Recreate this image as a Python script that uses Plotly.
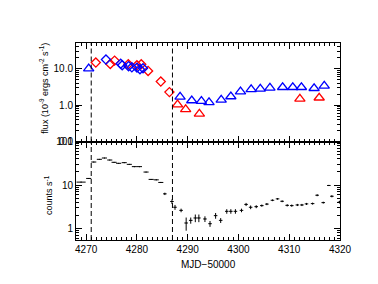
import plotly.graph_objects as go
from plotly.subplots import make_subplots

# ---- top panel: flux (1e-9 erg cm^-2 s^-1)
red_diam_mjd = [4271.9, 4274.75, 4275.6, 4278.3, 4280.0, 4280.85, 4282.2, 4284.7, 4286.4]
red_diam_flux = [14.6, 13.3, 16.5, 13.1, 12.3, 13.1, 8.6, 4.4, 2.26]
blue_diam_mjd = [4273.9, 4276.8, 4277.1, 4278.35, 4279.0, 4280.0, 4280.6, 4281.2]
blue_diam_flux = [17.6, 13.5, 12.3, 11.6, 10.8, 10.6, 9.6, 10.2]
blue_tri_mjd = [4270.5, 4288.5, 4290.8, 4292.7, 4294.2, 4296.6, 4298.5, 4300.4, 4302.5,
                4304.3, 4306.2, 4308.7, 4310.7, 4312.4, 4314.9, 4316.9]
blue_tri_flux = [10.0, 1.68, 1.33, 1.28, 1.18, 1.39, 1.71, 2.33, 2.7,
                 2.77, 2.95, 3.07, 3.07, 3.07, 2.88, 3.34]
red_tri_mjd = [4288.0, 4289.6, 4292.3, 4312.1, 4315.9]
red_tri_flux = [1.03, 0.76, 0.575, 1.48, 1.58]

# ---- bottom panel: count rate
cnt_mjd = [4269.0, 4270.5, 4271.5, 4272.6, 4273.6, 4274.65, 4275.5, 4276.4, 4277.5, 4278.5,
           4279.5, 4280.5, 4281.8, 4282.8, 4283.8, 4284.7, 4285.5, 4286.9, 4287.5, 4288.7,
           4289.7, 4290.6, 4291.5, 4292.2, 4293.4, 4294.4, 4295.5, 4296.5, 4297.7, 4298.5,
           4299.4, 4300.6, 4301.5, 4302.4, 4303.5, 4304.6, 4305.6, 4306.7, 4307.7, 4308.6,
           4309.6, 4310.5, 4311.6, 4312.5, 4313.4, 4314.6, 4315.5, 4316.7, 4317.8, 4318.4,
           4319.9]
cnt_rate = [11.7, 14.2, 33.8, 39.0, 41.8, 37.6, 33.3, 31.6, 32.7, 29.9,
            26.5, 26.5, 19.9, 13.5, 13.2, 11.5, 6.3, 4.2, 3.1, 2.63,
            1.35, 1.55, 1.76, 1.76, 1.67, 1.30, 1.99, 1.55, 2.5, 2.5,
            2.5, 2.63, 3.6, 3.1, 3.2, 3.38, 3.66, 4.48, 4.83, 4.25,
            3.43, 3.38, 3.5, 3.5, 3.7, 3.76, 5.85, 3.96, 9.8, 5.54,
            4.07]
cnt_xerr = [0.9, 0.5, 0.5, 0.5, 0.5, 0.5, 0.5, 0.5, 0.5, 0.5,
            0.5, 0.5, 0.5, 0.5, 0.5, 0.5, 0.35, 0.35, 0.35, 0.35,
            0.35, 0.35, 0.35, 0.35, 0.35, 0.35, 0.35, 0.35, 0.35, 0.35,
            0.35, 0.35, 0.35, 0.35, 0.35, 0.35, 0.35, 0.35, 0.35, 0.35,
            0.35, 0.35, 0.35, 0.35, 0.35, 0.35, 0.35, 0.35, 0.35, 0.35,
            0.35]
cnt_yerr = [0.2, 0.3, 0.5, 0.5, 0.5, 0.5, 0.5, 0.5, 0.5, 0.5,
            0.4, 0.4, 0.3, 0.3, 0.3, 0.3, 0.4, 0.5, 0.4, 0.25,
            0.45, 0.25, 0.35, 0.35, 0.25, 0.2, 0.3, 0.2, 0.3, 0.3,
            0.3, 0.25, 0.3, 0.3, 0.25, 0.2, 0.2, 0.2, 0.2, 0.2,
            0.2, 0.2, 0.2, 0.2, 0.2, 0.2, 0.3, 0.2, 0.3, 0.3,
            0.3]

event_days = [4271, 4287]

x_range = [4268, 4320]
x_major = [4270, 4280, 4290, 4300, 4310, 4320]
flux_ticks = [0.1, 1, 10]
flux_ticktext = ["0.1", "1.0", "10.0"]
cnt_ticks = [1, 10, 100]
cnt_ticktext = ["1", "10", "100"]

FONT = "Liberation Sans, Arial, sans-serif"

fig = make_subplots(rows=2, cols=1, shared_xaxes=True, vertical_spacing=0)

def pts(x, y, sym, color, size):
    return go.Scatter(x=x, y=y, mode="markers", showlegend=False,
                      marker=dict(symbol=sym, size=size, color=color,
                                  line=dict(color=color, width=1.3)))

fig.add_trace(pts(red_diam_mjd, red_diam_flux, "diamond-open", "#ff0000", 7), row=1, col=1)
fig.add_trace(pts(blue_diam_mjd, blue_diam_flux, "diamond-open", "#0000ff", 7), row=1, col=1)
fig.add_trace(pts(blue_tri_mjd, blue_tri_flux, "triangle-up-open", "#0000ff", 9), row=1, col=1)
fig.add_trace(pts(red_tri_mjd, red_tri_flux, "triangle-up-open", "#ff0000", 9), row=1, col=1)

fig.add_trace(go.Scatter(x=cnt_mjd, y=cnt_rate, mode="markers", showlegend=False,
                         marker=dict(size=1, color="black"),
                         error_x=dict(type="data", array=cnt_xerr, color="black", thickness=1, width=0),
                         error_y=dict(type="data", array=cnt_yerr, color="black", thickness=1, width=0)),
              row=2, col=1)

for d in event_days:
    for r in (1, 2):
        fig.add_vline(x=d, line=dict(color="black", width=1, dash="5px,3px"), row=r, col=1)

axis_common = dict(showline=True, linecolor="black", linewidth=1, mirror="ticks",
                   ticks="inside", tickcolor="black", showgrid=False, zeroline=False,
                   automargin=False,
                   tickfont=dict(family=FONT, size=10, color="black"))

fig.update_xaxes(range=x_range, tickmode="array", tickvals=x_major, ticklen=6,
                 minor=dict(ticks="inside", ticklen=3, dtick=1, tickcolor="black", showgrid=False),
                 **axis_common)
fig.update_xaxes(showticklabels=False, row=1, col=1)
fig.update_xaxes(showticklabels=True, row=2, col=1)

fig.update_yaxes(type="log", range=[-1, 1.7], tickmode="array", tickvals=flux_ticks,
                 ticktext=flux_ticktext, ticklen=6,
                 minor=dict(ticks="inside", ticklen=3, dtick="D1", tickcolor="black", showgrid=False),
                 row=1, col=1, **axis_common)
fig.update_yaxes(type="log", range=[-0.26, 2.0], tickmode="array", tickvals=cnt_ticks,
                 ticktext=cnt_ticktext, ticklen=6,
                 minor=dict(ticks="inside", ticklen=3, dtick="D1", tickcolor="black", showgrid=False),
                 row=2, col=1, **axis_common)

fig.update_layout(
    width=378, height=284,
    margin=dict(l=68, r=46, t=35, b=51.5),
    paper_bgcolor="white", plot_bgcolor="white",
    font=dict(family=FONT, size=10, color="black"),
    annotations=[
        dict(text="flux (10<sup>-9</sup> ergs cm<sup>-2</sup> s<sup>-1</sup>)", textangle=-90,
             xref="paper", yref="paper", x=-0.12, y=0.77, xanchor="center", yanchor="middle",
             showarrow=False, font=dict(family=FONT, size=9)),
        dict(text="counts s<sup>-1</sup>", textangle=-90,
             xref="paper", yref="paper", x=-0.105, y=0.23, xanchor="center", yanchor="middle",
             showarrow=False, font=dict(family=FONT, size=9)),
        dict(text="MJD\u221250000", xref="paper", yref="paper", x=0.5, y=-0.125,
             xanchor="center", yanchor="middle", showarrow=False, font=dict(family=FONT, size=10)),
    ],
)

fig.write_html("out.html")
